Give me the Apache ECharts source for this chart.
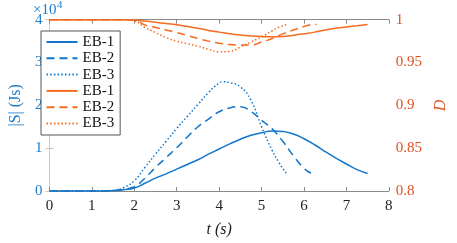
<!DOCTYPE html>
<html>
<head>
<meta charset="utf-8">
<script src="https://cdn.jsdelivr.net/npm/echarts@6/dist/echarts.min.js"></script>
<style>html,body{margin:0;padding:0;background:#fff}.c{width:457px;height:243px}</style>
</head>
<body>
<div class="c" id="a"></div>
<script>
// |S| (x1e4) series
var tS1 = [0,0.5,1,1.25,1.5,1.75,2,2.25,2.5,2.75,3,3.25,3.5,3.75,4,4.25,4.5,4.75,5,5.25,5.5,5.75,6,6.25,6.5,6.75,7,7.25,7.5];
var S1  = [0,0,0,0,0.01,0.03,0.07,0.18,0.3,0.4,0.51,0.62,0.73,0.86,0.98,1.1,1.21,1.3,1.36,1.4,1.39,1.33,1.22,1.08,0.92,0.77,0.63,0.5,0.41];
var tS2 = [0,0.5,1,1.25,1.5,1.75,2,2.25,2.5,2.75,3,3.25,3.5,3.75,4,4.25,4.5,4.75,5,5.25,5.5,5.75,6,6.1,6.2,6.3];
var S2  = [0,0,0,0,0.01,0.04,0.1,0.3,0.55,0.78,1.01,1.26,1.5,1.68,1.85,1.94,1.97,1.86,1.65,1.45,1.16,0.82,0.53,0.45,0.42,0.42];
var tS3 = [0,0.5,1,1.25,1.5,1.75,2,2.25,2.5,2.75,3,3.25,3.5,3.75,4,4.1,4.25,4.5,4.75,5,5.25,5.4,5.58];
var S3  = [0,0,0,0,0.01,0.08,0.24,0.55,0.86,1.16,1.46,1.74,2.02,2.3,2.52,2.55,2.53,2.43,2.12,1.5,0.95,0.68,0.42];
// D series
var tD1 = [0,0.5,1,1.5,1.75,2,2.25,2.5,2.75,3,3.25,3.5,3.75,4,4.25,4.5,4.75,5,5.25,5.5,5.75,6,6.25,6.5,6.75,7,7.25,7.5];
var D1  = [1,1,1,1,1,0.9993,0.9985,0.997,0.9955,0.994,0.992,0.99,0.9875,0.9855,0.9835,0.982,0.981,0.9803,0.98,0.9805,0.9818,0.9835,0.9855,0.988,0.99,0.9915,0.993,0.9945];
var tD2 = [0,0.5,1,1.5,1.75,2,2.25,2.5,2.75,3,3.25,3.5,3.75,4,4.25,4.5,4.75,5,5.25,5.5,5.75,6,6.15,6.3];
var D2  = [1,1,1,1,1,0.9995,0.994,0.991,0.988,0.985,0.9815,0.978,0.975,0.9725,0.971,0.9705,0.9705,0.974,0.978,0.9835,0.988,0.992,0.994,0.9945];
var tD3 = [0,0.5,1,1.5,1.75,2,2.25,2.5,2.75,3,3.25,3.5,3.75,4,4.25,4.5,4.75,5,5.25,5.4,5.58];
var D3  = [1,1,1,1,1,0.9986,0.991,0.985,0.979,0.975,0.972,0.969,0.9655,0.9625,0.963,0.968,0.974,0.98,0.987,0.991,0.994];

var legendLabels = {S1:'EB-1',S2:'EB-2',S3:'EB-3',D1:'EB-1',D2:'EB-2',D3:'EB-3'};
var xTicks = [0,1,2,3,4,5,6,7,8];

var BLUE = '#1276cc', ORANGE = '#f56b1f', ORANGE_TXT = '#dc5320', BLUE_TXT = '#1a7ccc';
var F = 'Liberation Serif';

function pairs(t, v){ return t.map(function(x,i){ return [x, v[i]]; }); }
function mk(name, t, v, yIdx, color, type){
  return {name:name, type:'line', xAxisIndex:0, yAxisIndex:yIdx, data:pairs(t,v), smooth:true,
    showSymbol:false, symbol:'none',
    lineStyle:{color:color, width:1.5, type:type}, itemStyle:{color:color}};
}

function buildOption(){
  return {
  animation:false,
  textStyle:{fontFamily:F},
  grid:{left:32.7, right:50.7, top:19.7, bottom:44.3},
  graphic:[
    {type:'text', left:33, top:3, style:{text:'×10', fontSize:15, fontFamily:F, fill:BLUE_TXT}},
    {type:'text', left:57, top:0, style:{text:'4', fontSize:11, fontFamily:F, fill:BLUE_TXT}}
  ],
  legend:{orient:'vertical', left:41, top:31, padding:[3.5,6,4,4.5], itemWidth:31, itemHeight:14, itemGap:1.3,
    backgroundColor:'#fff', borderColor:'#555', borderWidth:1, borderRadius:0,
    itemStyle:{opacity:0},
    data:['S1','S2','S3','D1','D2','D3'],
    formatter:function(n){ return legendLabels[n]; },
    textStyle:{fontFamily:F, fontSize:15, color:'#111'}},
  xAxis:[
    {type:'value', position:'bottom', min:xTicks[0], max:xTicks[xTicks.length-1], interval:1,
     axisLine:{lineStyle:{color:'#8a8a8a', width:1}}, axisTick:{inside:true, length:4, lineStyle:{color:'#8a8a8a'}},
     splitLine:{show:false}, axisLabel:{fontFamily:F, fontSize:15, color:'#222', margin:8},
     name:'t (s)', nameLocation:'middle', nameGap:31,
     nameTextStyle:{fontFamily:F, fontSize:16, color:'#222', fontStyle:'italic'}},
    {type:'value', position:'top', min:xTicks[0], max:xTicks[xTicks.length-1], interval:1,
     axisLine:{lineStyle:{color:'#8a8a8a', width:1}}, axisTick:{inside:true, length:4, lineStyle:{color:'#8a8a8a'}},
     splitLine:{show:false}, axisLabel:{show:false}}
  ],
  yAxis:[
    {type:'value', position:'left', min:0, max:4, interval:1,
     axisLine:{show:true, lineStyle:{color:'#9cc6ea', width:1}}, axisTick:{inside:true, length:4, lineStyle:{color:'#9cc6ea'}},
     splitLine:{show:false}, axisLabel:{fontFamily:F, fontSize:15, color:BLUE_TXT, margin:7},
     name:'|S| (Js)', nameLocation:'middle', nameGap:20,
     nameTextStyle:{fontFamily:F, fontSize:16, color:BLUE_TXT}},
    {type:'value', position:'right', min:0.8, max:1, interval:0.05,
     axisLine:{show:true, lineStyle:{color:'#f4bea6', width:1}}, axisTick:{inside:true, length:4, lineStyle:{color:'#f4bea6'}},
     splitLine:{show:false}, axisLabel:{fontFamily:F, fontSize:15, color:ORANGE_TXT, margin:7},
     name:'D', nameLocation:'middle', nameGap:40, nameRotate:90,
     nameTextStyle:{fontFamily:F, fontSize:16, color:ORANGE_TXT, fontStyle:'italic'}}
  ],
  series:[
    mk('S1', tS1, S1, 0, BLUE, 'solid'),
    mk('S2', tS2, S2, 0, BLUE, [8,5]),
    mk('S3', tS3, S3, 0, BLUE, [1.5,2.2]),
    mk('D1', tD1, D1, 1, ORANGE, 'solid'),
    mk('D2', tD2, D2, 1, ORANGE, [8,5]),
    mk('D3', tD3, D3, 1, ORANGE, [1.5,2.2])
  ]
  };
}
var chart = echarts.init(document.getElementById('a'));
chart.setOption(buildOption());
function rerender(){ chart.clear(); chart.setOption(buildOption()); }
if (document.fonts && document.fonts.load) {
  document.fonts.load('15px "Liberation Serif"').then(rerender, rerender);
}
setTimeout(rerender, 150);
</script>
</body>
</html>
